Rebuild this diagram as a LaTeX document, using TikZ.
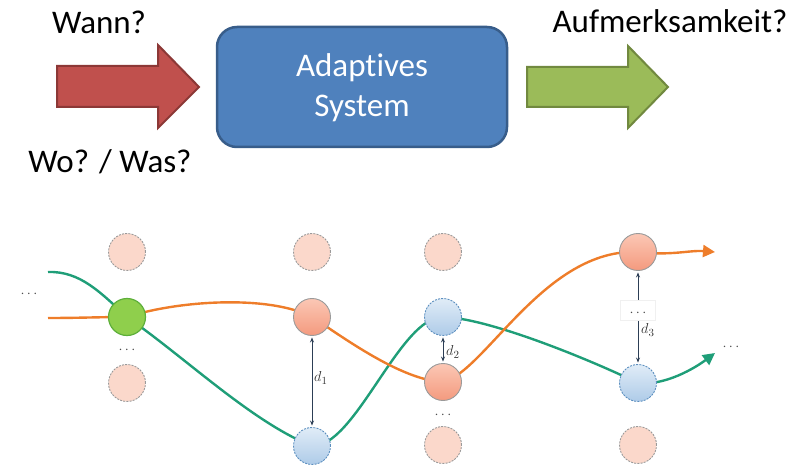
\documentclass[tikz,border=0pt]{standalone}
\usepackage{fontspec}
\setmainfont[Ligatures=NoCommon]{Carlito}
\usetikzlibrary{arrows.meta,backgrounds}

\definecolor{redfill}{HTML}{C0504D}
\definecolor{redline}{HTML}{8C3836}
\definecolor{bluefill}{HTML}{4F81BD}
\definecolor{blueline}{HTML}{385D8A}
\definecolor{grnfill}{HTML}{9BBB59}
\definecolor{grnline}{HTML}{71893F}
\definecolor{pathorange}{HTML}{EE7D2A}
\definecolor{pathteal}{HTML}{1F9E78}
\definecolor{palefill}{HTML}{FBD8CB}
\definecolor{ringgray}{HTML}{9A9A9A}
\definecolor{salmontop}{HTML}{FBC7B5}
\definecolor{salmonbot}{HTML}{F49A7E}
\definecolor{skytop}{HTML}{E0ECF7}
\definecolor{skybot}{HTML}{AECBE8}
\definecolor{skyline}{HTML}{5C8FBF}
\definecolor{limefill}{HTML}{8FCF4C}
\definecolor{limeline}{HTML}{5DAF3A}
\definecolor{navy}{HTML}{2C3E55}

\begin{document}
\begin{tikzpicture}[x=1pt,y=-1pt,
  bigtext/.style={font=\fontsize{33}{38}\selectfont, inner sep=0pt, anchor=base},
  state/.style={circle, minimum size=37pt, inner sep=0pt, line width=0.9pt},
  pale/.style={state, fill=palefill, draw=ringgray, dash pattern=on 2pt off 1.2pt},
  salmon/.style={state, top color=salmontop, bottom color=salmonbot, draw=ringgray},
  sky/.style={state, top color=skytop, bottom color=skybot, draw=skyline, dash pattern=on 2pt off 1.2pt},
  lime/.style={state, fill=limefill, draw=limeline, line width=1.2pt},
  dotsmark/.style={inner sep=0pt, text=black!70, font=\fontsize{15}{17}\selectfont},
  dlabel/.style={inner sep=0pt, anchor=west, text=black!80, font=\fontsize{15}{17}\selectfont},
  tealpath/.style={draw=pathteal, line width=2.4pt},
  orangepath/.style={draw=pathorange, line width=2.4pt},
  pathtip/.style={-{Triangle[length=12pt,width=12pt]}},
  darr/.style={draw=navy, line width=0.8pt, {Stealth[length=5pt,width=4pt]}-{Stealth[length=5pt,width=4pt]}, shorten <=1.5pt, shorten >=1.5pt}
]
\useasboundingbox (0,0) rectangle (796,468);

% ---------- upper part: input arrow, system box, output arrow ----------
\filldraw[fill=redfill, draw=redline, line width=2pt]
  (57,66) -- (158,66) -- (158,45) -- (199,87) -- (158,128) -- (158,107) -- (57,107) -- cycle;
\filldraw[fill=grnfill, draw=grnline, line width=2pt]
  (527,67) -- (628,67) -- (628,46) -- (668,87) -- (628,128) -- (628,107) -- (527,107) -- cycle;
\node[draw=blueline, fill=bluefill, line width=2.5pt, rounded corners=20pt,
      minimum width=290pt, minimum height=120pt, inner sep=0pt] (sys) at (362,87) {};
\node[bigtext, text=white] (sys1) at (362,77) {Adaptives};
\node[bigtext, text=white] (sys2) at (362,117) {System};

\node[bigtext] (when) at (99,34) {Wann?};
\node[bigtext] (where) at (110,173) {Wo? / Was?};
\node[bigtext] (attn) at (670,33) {Aufmerksamkeit?};

% ---------- lower part: lattice of states ----------
\node[pale]  (p1t) at (127,252) {};
\node[lime]  (g1)  at (127,317) {};
\node[dotsmark] (dots1) at (127,350) {$\cdots$};
\node[pale]  (p1b) at (127,383) {};

\node[pale]   (p2t) at (312,252) {};
\node[salmon] (o2)  at (312,317) {};
\node[sky]    (b2)  at (312,446) {};

\node[pale]   (p3t) at (443,252) {};
\node[sky]    (b3)  at (443,317) {};
\node[salmon] (o3)  at (443,382) {};
\node[dotsmark] (dots3) at (443,415) {$\cdots$};
\node[pale]   (p3b) at (443,445) {};

\node[salmon] (o4)  at (638,252) {};
\node[fill=white, draw=black!6, minimum width=35pt, minimum height=20pt, inner sep=0pt] (gap4) at (638,310) {};
\node[dotsmark] (dots4) at (638,313) {$\cdots$};
\node[sky]    (b4)  at (638,383) {};
\node[pale]   (p4b) at (638,445) {};

\node[dotsmark] (dotsl) at (29,294) {$\cdots$};
\node[dotsmark] (dotsr) at (731,347) {$\cdots$};

\coordinate (tstart) at (48,272);
\coordinate (ostart) at (48,318);
\coordinate (tend) at (715,353);
\coordinate (oend) at (715,252);

\begin{pgfonlayer}{background}
  % teal trajectory
  \draw[tealpath, pathtip] (tstart)
    .. controls (80,271) and (100,292) .. (g1.center)
    .. controls (187,359) and (252,422) .. (b2.center)
    .. controls (355,448) and (400,316) .. (b3.center)
    .. controls (490,318) and (595,362) .. (b4.center)
    .. controls (665,386) and (695,368) .. (tend);
  % orange trajectory
  \draw[orangepath, pathtip] (ostart)
    .. controls (80,318) and (100,317) .. (g1.center)
    .. controls (180,300) and (270,295) .. (o2.center)
    .. controls (340,335) and (400,380) .. (o3.center)
    .. controls (485,372) and (545,248) .. (o4.center)
    .. controls (670,256) and (690,250) .. (oend);
  % distances
  \draw[darr] (o2.south) -- (b2.north);
  \draw[darr] (b3.south) -- (o3.north);
  \draw[darr] (o4.south) -- (b4.north);
\end{pgfonlayer}

\node[dlabel] (d1) at (314,378) {$d_1$};
\node[dlabel] (d2) at (446,352) {$d_2$};
\node[dlabel] (d3) at (641,330) {$d_3$};
\end{tikzpicture}
\end{document}
